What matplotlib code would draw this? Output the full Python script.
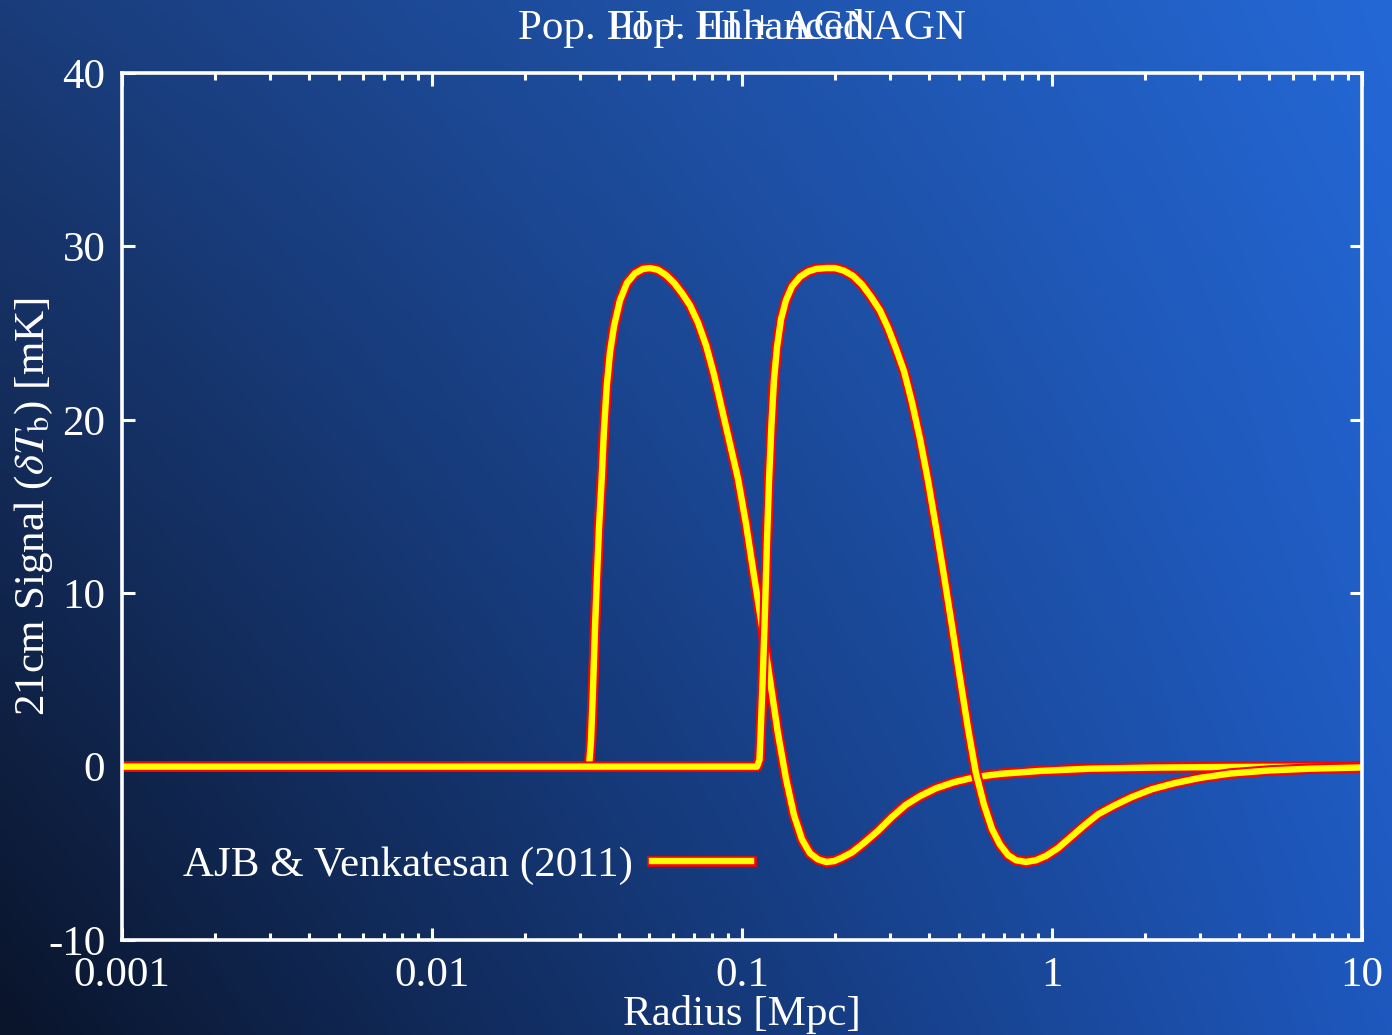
import numpy as np
import matplotlib
matplotlib.use('Agg')
import matplotlib.pyplot as plt
import matplotlib.patheffects as pe
from matplotlib.ticker import LogLocator, FuncFormatter, NullFormatter, MultipleLocator

plt.rcParams['font.family'] = ['Liberation Serif', 'DejaVu Serif']
plt.rcParams['mathtext.fontset'] = 'stix'
plt.rcParams['axes.unicode_minus'] = False

# 21cm brightness temperature profiles, log10(radius / Mpc) against signal in mK
logr_agn = [-3.0, -1.4935, -1.4871, -1.4806, -1.4742, -1.4677, -1.4613, -1.4532, -1.4452,
            -1.4365, -1.4258, -1.4129, -1.3935, -1.3710, -1.3452, -1.3194, -1.2968, -1.2710,
            -1.2452, -1.2194, -1.1935, -1.1677, -1.1419, -1.1161, -1.0903, -1.0645, -1.0387,
            -1.0129, -0.9871, -0.9613, -0.9355, -0.9097, -0.8839, -0.8581, -0.8323, -0.8065,
            -0.7806, -0.7548, -0.7290, -0.7032, -0.6774, -0.6452, -0.6065, -0.5613, -0.5161,
            -0.4710, -0.4258, -0.3742, -0.3161, -0.2452, -0.1677, -0.0387, 0.1226, 0.3161,
            0.5742, 1.0]
signal_agn = [0, 0, 1.5, 4.5, 8.0, 11.0, 13.8, 16.4, 19.4,
              21.9, 23.9, 25.4, 26.9, 27.9, 28.45, 28.7, 28.75, 28.65,
              28.35, 27.9, 27.3, 26.6, 25.6, 24.3, 22.6, 20.6, 18.6,
              16.6, 14.0, 11.0, 8.1, 5.0, 1.9, -0.7, -2.8, -4.2,
              -5.0, -5.35, -5.5, -5.45, -5.25, -4.95, -4.4, -3.7, -2.9,
              -2.2, -1.7, -1.25, -0.9, -0.6, -0.42, -0.25, -0.12, -0.06,
              -0.02, 0]

logr_enh = [-3.0, -0.9516, -0.9435, -0.9387, -0.9323, -0.9258, -0.9194, -0.9129, -0.9048,
            -0.8968, -0.8871, -0.8742, -0.8581, -0.8387, -0.8129, -0.7871, -0.7613, -0.7290,
            -0.7, -0.6710, -0.6419, -0.6129, -0.5839, -0.5548, -0.5290, -0.5032, -0.4774,
            -0.4516, -0.4258, -0.4, -0.3742, -0.3484, -0.3226, -0.2968, -0.2710, -0.2452,
            -0.2194, -0.1935, -0.1677, -0.1419, -0.1161, -0.0839, -0.0516, -0.0194, 0.0194,
            0.0581, 0.1032, 0.1484, 0.2, 0.2581, 0.3226, 0.3968, 0.4774, 0.5742,
            0.7032, 0.8323, 1.0]
signal_enh = [0, 0, 0.4, 2.5, 5.5, 9.0, 13.0, 16.5, 19.8,
              22.3, 24.2, 25.8, 26.9, 27.7, 28.25, 28.55, 28.7, 28.75,
              28.75, 28.6, 28.3, 27.8, 27.1, 26.3, 25.3, 24.1, 22.8,
              21.0, 18.9, 16.5, 13.8, 11.0, 8.1, 5.1, 2.2, -0.4,
              -2.2, -3.6, -4.5, -5.1, -5.4, -5.5, -5.4, -5.15, -4.7,
              -4.1, -3.4, -2.75, -2.25, -1.75, -1.3, -0.95, -0.65, -0.4,
              -0.22, -0.12, -0.05]

titles = ['Pop. III + AGN', 'Pop. III + Enhanced AGN']
xticks = [0.001, 0.01, 0.1, 1, 10]

fs = 31
fig = plt.figure(figsize=(13.92, 10.35), dpi=100)

# blue gradient backdrop
bg = fig.add_axes([0, 0, 1, 1], zorder=-1)
u = np.linspace(0, 1, 256)[None, :]
v = np.linspace(0, 1, 256)[:, None]
bl = np.array([10, 20, 42]) / 255
br = np.array([30, 88, 190]) / 255
tl = np.array([26, 60, 122]) / 255
tr = np.array([36, 104, 214]) / 255
grad = (bl * ((1 - u) * (1 - v))[..., None] + br * (u * (1 - v))[..., None]
        + tl * ((1 - u) * v)[..., None] + tr * (u * v)[..., None])
bg.imshow(grad, origin='lower', extent=[0, 1, 0, 1], aspect='auto', interpolation='bilinear')
bg.axis('off')

ax = fig.add_axes([122/1392, 1 - 940/1035, 1240/1392, 867/1035])
ax.set_facecolor('none')

outline = [pe.Stroke(linewidth=7.6, foreground='red'), pe.Normal()]
ax.plot(10 ** np.array(logr_agn), signal_agn, color='yellow', lw=4.6, path_effects=outline,
        label='AJB & Venkatesan (2011)', solid_joinstyle='round')
ax.plot(10 ** np.array(logr_enh), signal_enh, color='yellow', lw=4.6, path_effects=outline,
        label='_nolegend_', solid_joinstyle='round')

ax.set_xscale('log')
ax.set_xlim(0.001, 10)
ax.set_ylim(-10, 40)
ax.xaxis.set_minor_locator(LogLocator(base=10, subs=np.arange(2, 10)))
ax.xaxis.set_minor_formatter(NullFormatter())
ax.set_xticks(xticks)
ax.xaxis.set_major_formatter(FuncFormatter(lambda x, _: '%g' % x))
ax.yaxis.set_major_locator(MultipleLocator(10))

for s in ax.spines.values():
    s.set_color('white')
    s.set_linewidth(2.6)
ax.tick_params(which='both', direction='in', top=True, right=True, colors='white',
               labelsize=fs, width=2.2)
ax.tick_params(which='major', length=9, pad=12)
ax.tick_params(which='minor', length=5)

ax.set_xlabel('Radius [Mpc]', fontsize=fs, color='white', va='baseline')
ax.xaxis.set_label_coords(0.5, -0.098)
ax.set_ylabel(r'21cm Signal ($\delta T_{\rm b}$) [mK]', fontsize=fs, color='white', va='center')
ax.yaxis.set_label_coords(-0.071, 0.5)

for t in titles:
    ax.text(0.5, 1.039, t, transform=ax.transAxes, ha='center', va='baseline',
            fontsize=fs, color='white')

leg = ax.legend(loc='center left', bbox_to_anchor=(0.049, 0.086), frameon=False,
                markerfirst=False, fontsize=fs, handlelength=2.3, handletextpad=0.45,
                borderpad=0, borderaxespad=0)
for txt in leg.get_texts():
    txt.set_color('white')

fig.savefig('out.png', dpi=100)
